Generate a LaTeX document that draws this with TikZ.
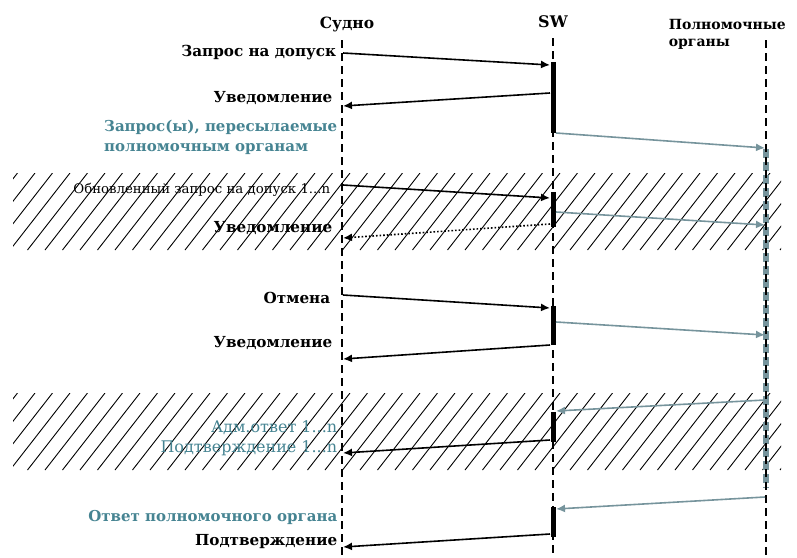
\documentclass[tikz,border=0pt]{standalone}
\usepackage{fontspec}
\setmainfont{DejaVu Serif}
\usetikzlibrary{arrows.meta,positioning}
\definecolor{tealtxt}{RGB}{70,132,146}
\definecolor{greyarr}{RGB}{118,148,156}

\begin{document}
\begin{tikzpicture}[x=1pt,y=-1pt,>={Latex[length=9pt,width=8pt]},line width=1.6pt]
  \tikzstyle{life}=[line width=1.4pt,dash pattern=on 8pt off 5pt]
  \tikzstyle{head}=[font=\bfseries\fontsize{15.5}{19}\selectfont,inner sep=0pt]
  \tikzstyle{lbl}=[anchor=east,inner sep=0pt,font=\bfseries\fontsize{15.2}{20}\selectfont]
  \tikzstyle{tlbl}=[lbl,text=tealtxt]
  \tikzstyle{msg}=[->,black,line width=1.6pt]
  \tikzstyle{fwd}=[->,greyarr,line width=1.6pt]
  \tikzstyle{bar}=[line width=5pt]
  \tikzstyle{hatch}=[line width=0.9pt]

  \useasboundingbox (0,0) rectangle (797,557);

  % hatched bands
  \foreach \ya/\yb in {173/250,393/470} {
    \begin{scope}
      \clip (13,\ya) rectangle (781,\yb);
      \foreach \x in {-60,-42.5,...,800}
        \draw[hatch] (\x,\yb) -- ++(60,-77);
    \end{scope}
  }

  % heads
  \node[head] (ship) at (347,24) {Судно};
  \node[head,font=\bfseries\fontsize{16}{19}\selectfont] (sw) at (553,22) {SW};
  \node[head,anchor=north west,align=left,font=\bfseries\fontsize{14}{17}\selectfont] (auth) at (668,18) {Полномочные\\органы};

  % lifelines
  \coordinate (shipA) at (342,40);  \coordinate (shipB) at (342,557);
  \coordinate (swA) at (553,38);    \coordinate (swB) at (553,557);
  \coordinate (authA) at (766,40);  \coordinate (authB) at (766,557);
  \coordinate (authC) at (766,149); \coordinate (authD) at (766,488);
  \draw[greyarr,line width=5.5pt,dash pattern=on 9pt off 4pt] (authC) -- (authD);
  \draw[life] (shipA) -- (shipB);
  \draw[life] (swA) -- (swB);
  \draw[life] (authA) -- (authB);

  % activation bars on SW
  \foreach \ya/\yb in {62/133,192/227,306/345,412/442,507/537}
    \draw[bar] (553,\ya) -- (553,\yb);

  % message end points
  \foreach \n/\ys/\yw in {1/53/65,2/106/93,4/185/198,6/238/224,7/295/308,9/359/345,11/453/440,13/547/534}{
    \coordinate (s\n) at (343,\ys);
    \coordinate (w\n) at (550,\yw);
  }
  \foreach \n/\yw/\ya in {3/133/148,5/212/225,8/322/335,10/411/400,12/509/497}{
    \coordinate (v\n) at (556,\yw);
    \coordinate (a\n) at (765,\ya);
  }

  % messages
  \draw[msg] (s1) -- (w1);
  \draw[msg] (w2) -- (s2);
  \draw[fwd] (v3) -- (a3);
  \draw[msg] (s4) -- (w4);
  \draw[fwd] (v5) -- (a5);
  \draw[msg,dotted] (w6) -- (s6);
  \draw[msg] (s7) -- (w7);
  \draw[fwd] (v8) -- (a8);
  \draw[msg] (w9) -- (s9);
  \draw[fwd] (a10) -- (v10);
  \draw[msg] (w11) -- (s11);
  \draw[fwd] (a12) -- (v12);
  \draw[msg] (w13) -- (s13);

  % labels
  \node[lbl] (l1) at (337,53) {Запрос на допуск};
  \node[lbl] (l2) at (333,98) {Уведомление};
  \node[tlbl,align=left,font=\bfseries\fontsize{15}{20}\selectfont] (l3) at (338,137) {Запрос(ы), пересылаемые\\полномочным органам};
  \node[lbl,font=\fontsize{13.3}{15}\selectfont] (l4) at (331,190) {Обновленный запрос на допуск 1...n};
  \node[lbl] (l5) at (333,228) {Уведомление};
  \node[lbl] (l6) at (331,298) {Отмена};
  \node[lbl] (l7) at (333,343) {Уведомление};
  \node[tlbl,font=\fontsize{16}{19}\selectfont] (l8) at (338,428) {Адм.ответ 1...n};
  \node[tlbl,font=\fontsize{16}{19}\selectfont] (l9) at (338,448) {Подтверждение 1...n};
  \node[tlbl,font=\bfseries\fontsize{15}{20}\selectfont] (l10) at (338,517) {Ответ полномочного органа};
  \node[lbl] (l11) at (338,542) {Подтверждение};
\end{tikzpicture}
\end{document}
